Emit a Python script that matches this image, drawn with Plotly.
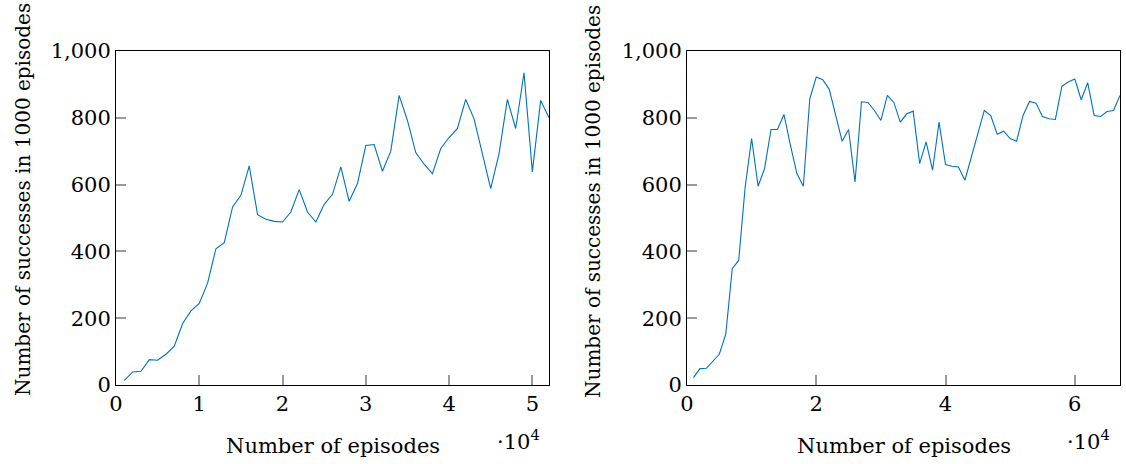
import plotly.graph_objects as go

# Left run: successes per 1000 episodes, sampled every 1000 episodes
left_episodes = [1000 * k for k in range(1, 53)]
left_successes = [14, 39, 41, 76, 74, 92, 116, 184, 222, 244,
                  305, 408, 426, 533, 568, 656, 510, 496, 490, 488,
                  518, 585, 518, 488, 541, 571, 653, 550, 603, 717,
                  720, 640, 700, 867, 792, 696, 661, 633, 708, 741,
                  768, 855, 797, 693, 588, 693, 855, 768, 935, 638,
                  852, 800]

# Right run
right_episodes = [1000 * k for k in range(1, 68)]
right_successes = [22, 49, 50, 71, 92, 152, 348, 373, 593, 738,
                   595, 648, 765, 765, 810, 718, 633, 595, 857, 922,
                   914, 886, 812, 730, 765, 608, 848, 846, 822, 792,
                   867, 846, 787, 812, 820, 663, 728, 643, 787, 660,
                   655, 653, 613, 683, 753, 822, 807, 751, 760, 738,
                   730, 807, 849, 844, 804, 797, 795, 894, 907, 916,
                   854, 905, 807, 804, 819, 822, 867]

left_xtick_vals = [0, 10000, 20000, 30000, 40000, 50000]
left_xtick_text = ["0", "1", "2", "3", "4", "5"]
right_xtick_vals = [0, 20000, 40000, 60000]
right_xtick_text = ["0", "2", "4", "6"]
ytick_vals = [0, 200, 400, 600, 800, 1000]

x_title = "Number of episodes"
y_title = "Number of successes in 1000 episodes"
scale_label = "·10<sup>4</sup>"

W, H = 1126, 464
FONT = "DejaVu Serif"
LINE = "#0072BD"
ML, MR, MT, MB = 116, 6, 51, 79
PW = W - ML - MR
PH = H - MT - MB

fig = go.Figure()
fig.add_trace(go.Scatter(x=left_episodes, y=left_successes, mode="lines",
                         line=dict(color=LINE, width=1.1), xaxis="x", yaxis="y",
                         showlegend=False))
fig.add_trace(go.Scatter(x=right_episodes, y=right_successes, mode="lines",
                         line=dict(color=LINE, width=1.1), xaxis="x2", yaxis="y2",
                         showlegend=False))


def px(v):
    # pixel x -> paper x (paper = plotting area inside margins)
    return (v - ML) / PW


def py(v):
    # pixel y (from top) -> paper y
    return (H - MB - v) / PH


ldom = [0, px(549)]
rdom = [px(687), 1]

common = dict(showline=True, linecolor="black", linewidth=1, mirror=True,
              ticks="inside", ticklen=10, tickwidth=1.5, tickcolor="#9a9a9a",
              showgrid=False, zeroline=False, automargin=False,
              tickfont=dict(family=FONT, size=21, color="black"))

fig.update_layout(
    width=W, height=H,
    margin=dict(l=ML, r=MR, t=MT, b=MB, pad=0),
    paper_bgcolor="white", plot_bgcolor="white",
    xaxis=dict(domain=ldom, range=[0, 52000], tickvals=left_xtick_vals,
               ticktext=left_xtick_text, anchor="y", **common),
    yaxis=dict(domain=[0, 1], range=[0, 1000], tickvals=ytick_vals,
               tickformat=",", anchor="x", **common),
    xaxis2=dict(domain=rdom, range=[0, 67000], tickvals=right_xtick_vals,
                ticktext=right_xtick_text, anchor="y2", **common),
    yaxis2=dict(domain=[0, 1], range=[0, 1000], tickvals=ytick_vals,
                tickformat=",", anchor="x2", **common),
)

annos = []
for cx, rx in [((116 + 549) / 2, 542), ((687 + 1120) / 2, 1112)]:
    annos.append(dict(text=x_title, x=px(cx), y=py(446), xref="paper", yref="paper",
                      showarrow=False, xanchor="center", yanchor="middle",
                      font=dict(family=FONT, size=21, color="black")))
    annos.append(dict(text=scale_label, x=px(rx), y=py(440), xref="paper", yref="paper",
                      showarrow=False, xanchor="right", yanchor="middle",
                      font=dict(family=FONT, size=21, color="black")))
for xx, yy in [(23, 200), (593, 202)]:
    annos.append(dict(text=y_title, x=px(xx), y=py(yy), xref="paper", yref="paper",
                      showarrow=False, xanchor="center", yanchor="middle",
                      textangle=-90,
                      font=dict(family=FONT, size=20, color="black")))
fig.update_layout(annotations=annos)

fig.write_html("out.html")
